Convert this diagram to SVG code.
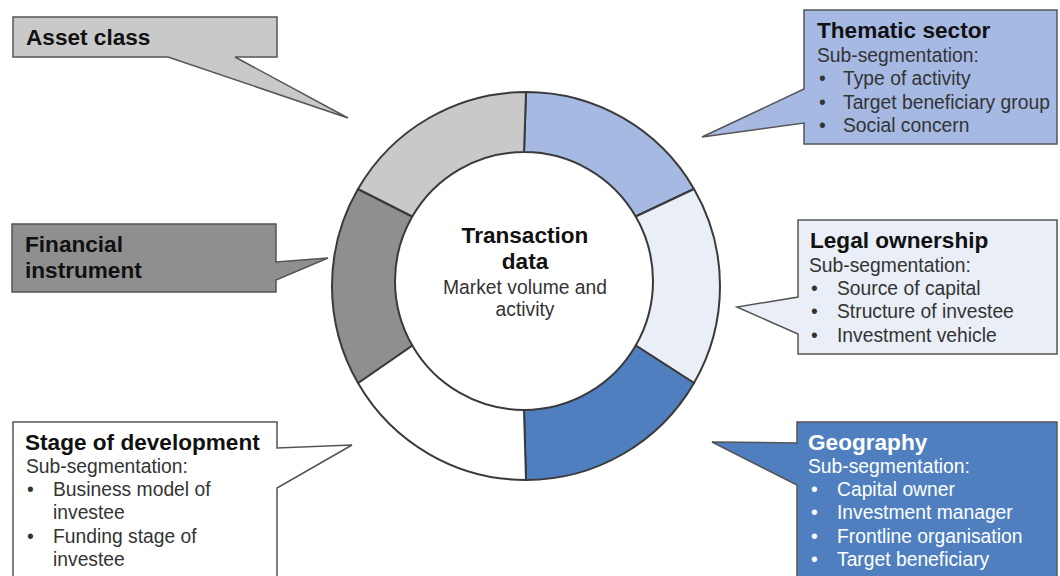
<svg xmlns="http://www.w3.org/2000/svg" width="1060" height="576" viewBox="0 0 1060 576">
<style>
text{font-family:"Liberation Sans",Arial,sans-serif;}
.h{font-size:22.6px;font-weight:bold;fill:#111;}
.b{font-size:19.3px;fill:#333;}
.w{fill:#fff;}
.co{stroke:#555;stroke-width:1.5;stroke-linejoin:miter;}
.seg{stroke:#3a3a3a;stroke-width:2;stroke-linejoin:round;}
.c{text-anchor:middle;}
</style>
<rect width="1060" height="576" fill="#fff"/>
<g id="connectors"></g>
<g id="node-transaction-data">
<path class="seg" fill="#a6b9e3" d="M526 92 A194 194 0 0 1 694.01 189 L635.72 216.5 A129 129 0 0 0 524 152 Z"/>
<path class="seg" fill="#e9eef7" d="M694.01 189 A194 194 0 0 1 694.01 383 L635.72 345.5 A129 129 0 0 0 635.72 216.5 Z"/>
<path class="seg" fill="#4f7fbf" d="M694.01 383 A194 194 0 0 1 526 480 L524 410 A129 129 0 0 0 635.72 345.5 Z"/>
<path class="seg" fill="#ffffff" d="M526 480 A194 194 0 0 1 357.99 383 L412.28 345.5 A129 129 0 0 0 524 410 Z"/>
<path class="seg" fill="#8f8f8f" d="M357.99 383 A194 194 0 0 1 357.99 189 L412.28 216.5 A129 129 0 0 0 412.28 345.5 Z"/>
<path class="seg" fill="#c9c9c9" d="M357.99 189 A194 194 0 0 1 526 92 L524 152 A129 129 0 0 0 412.28 216.5 Z"/>
<text class="h c" x="525" y="243">Transaction</text>
<text class="h c" x="525" y="269">data</text>
<text class="b c" x="525" y="294" fill="#222">Market volume and</text>
<text class="b c" x="525" y="316" fill="#222">activity</text>
</g>
<g id="node-asset-class">
<path class="co" fill="#c9c9c9" d="M13 17 H277 V57 H235 L348 118 L168 57 H13 Z"/>
<text class="h" x="26" y="45">Asset class</text>
</g>
<g id="node-financial-instrument">
<path class="co" fill="#8f8f8f" d="M12 224 H276 V262 L328 258 L276 280 V292 H12 Z"/>
<text class="h" x="25" y="252">Financial</text>
<text class="h" x="25" y="278">instrument</text>
</g>
<g id="node-thematic-sector">
<path class="co" fill="#a6b9e3" d="M804 10 H1057 V144 H804 V123 L702 137 L804 89 Z"/>
<text class="h" x="817" y="38">Thematic sector</text>
<text class="b" x="817" y="62">Sub-segmentation:</text>
<text class="b" x="819" y="85">•</text><text class="b" x="843" y="85">Type of activity</text>
<text class="b" x="819" y="108.5">•</text><text class="b" x="843" y="108.5">Target beneficiary group</text>
<text class="b" x="819" y="132">•</text><text class="b" x="843" y="132">Social concern</text>
</g>
<g id="node-legal-ownership">
<path class="co" fill="#e9eef7" d="M798 220 H1057 V354 H798 V334 L737 307 L798 297 Z"/>
<text class="h" x="810" y="248">Legal ownership</text>
<text class="b" x="809" y="272">Sub-segmentation:</text>
<text class="b" x="811" y="295">•</text><text class="b" x="837" y="295">Source of capital</text>
<text class="b" x="811" y="318">•</text><text class="b" x="837" y="318">Structure of investee</text>
<text class="b" x="811" y="342">•</text><text class="b" x="837" y="342">Investment vehicle</text>
</g>
<g id="node-geography">
<path class="co" fill="#4f7fbf" d="M797 422 H1057 V580 H797 V485 L712 442 L797 443 Z"/>
<text class="h w" x="808" y="450">Geography</text>
<text class="b w" x="808" y="473">Sub-segmentation:</text>
<text class="b w" x="811" y="496">•</text><text class="b w" x="837" y="496">Capital owner</text>
<text class="b w" x="811" y="519">•</text><text class="b w" x="837" y="519">Investment manager</text>
<text class="b w" x="811" y="543">•</text><text class="b w" x="837" y="543">Frontline organisation</text>
<text class="b w" x="811" y="566">•</text><text class="b w" x="837" y="566">Target beneficiary</text>
</g>
<g id="node-stage-of-development">
<path class="co" fill="#ffffff" d="M13 422 H277 V448 L352 445 L277 488 V580 H13 Z"/>
<text class="h" x="25" y="450">Stage of development</text>
<text class="b" x="26" y="473">Sub-segmentation:</text>
<text class="b" x="27" y="496">•</text><text class="b" x="53" y="496">Business model of</text>
<text class="b" x="53" y="519">investee</text>
<text class="b" x="27" y="543">•</text><text class="b" x="53" y="543">Funding stage of</text>
<text class="b" x="53" y="566">investee</text>
</g>
</svg>
